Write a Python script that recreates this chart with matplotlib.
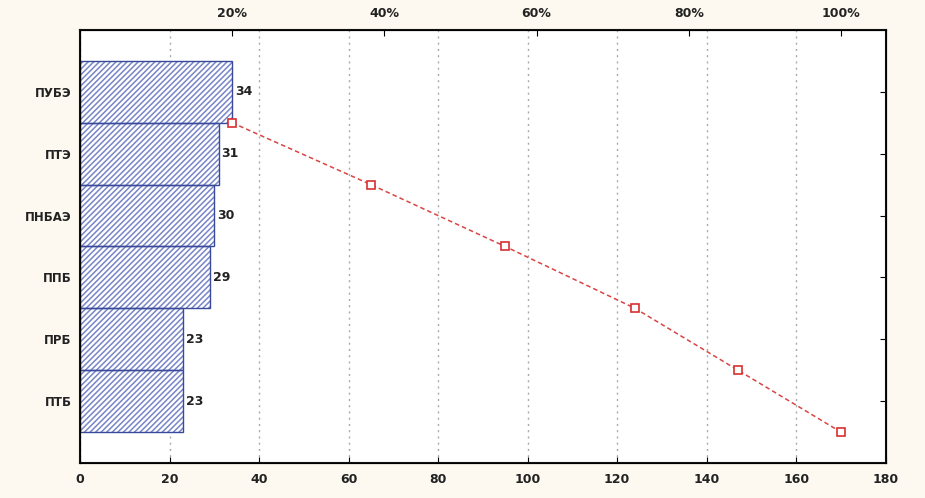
import numpy as np
import matplotlib.pyplot as plt

# данные парето-диаграммы
categories = ["ПУБЭ", "ПТЭ", "ПНБАЭ", "ППБ", "ПРБ", "ПТБ"]
values = [34, 31, 30, 29, 23, 23]
pct_labels = ["20%", "40%", "60%", "80%", "100%"]

total = sum(values)
cum = np.cumsum(values)
pos = np.arange(len(categories))

plt.rcParams['hatch.linewidth'] = 1.1

fig = plt.figure(figsize=(9.25, 4.98), dpi=100, facecolor='#fdf9f0')
ax = fig.add_axes([0.0865, 0.0703, 0.871, 0.8695])

# штриховка светлее контура, поэтому рисуем в два слоя
ax.barh(pos, values, height=1.0, color='white', edgecolor='#7886c6',
        hatch='//////', linewidth=0, zorder=2)
ax.barh(pos, values, height=1.0, fill=False, edgecolor='#3a4a9a',
        linewidth=1.0, zorder=2)
for p, v in zip(pos, values):
    ax.text(v + 0.6, p, str(v), va='center', ha='left', fontsize=9,
            fontweight='bold', color='#222222', zorder=4)

# кумулятивная линия
ax.plot(cum, pos + 0.5, color='#d94545', linestyle=(0, (3, 2)), linewidth=1.1,
        marker='s', markersize=5.5, markerfacecolor='white',
        markeredgecolor='#d93030', markeredgewidth=1.2, zorder=3)

ax.set_xlim(0, 180)
ax.set_ylim(6, -1)
ax.set_xticks(np.arange(0, 181, 20))
ax.set_yticks(pos)
ax.set_yticklabels(categories)
ax.xaxis.grid(True, linestyle=(0, (1.5, 3)), color='#aaaaaa', linewidth=1.0, zorder=0)
ax.set_axisbelow(True)

ax.tick_params(axis='x', direction='in', length=4, labelsize=9, pad=7)
ax.tick_params(axis='y', direction='in', length=4, labelsize=8.5, pad=6, right=True)
for lab in ax.get_xticklabels() + ax.get_yticklabels():
    lab.set_fontweight('bold')
    lab.set_color('#222222')

for s in ax.spines.values():
    s.set_linewidth(1.5)
    s.set_color('#111111')

# верхняя ось процентов
ax2 = ax.twiny()
ax2.set_xlim(ax.get_xlim())
ax2.set_xticks([total * k / 5 for k in range(1, 6)])
ax2.set_xticklabels(pct_labels)
ax2.tick_params(axis='x', direction='in', length=4, labelsize=9, pad=7)
for lab in ax2.get_xticklabels():
    lab.set_fontweight('bold')
    lab.set_color('#222222')

fig.savefig("out.png", dpi=100, facecolor=fig.get_facecolor())
